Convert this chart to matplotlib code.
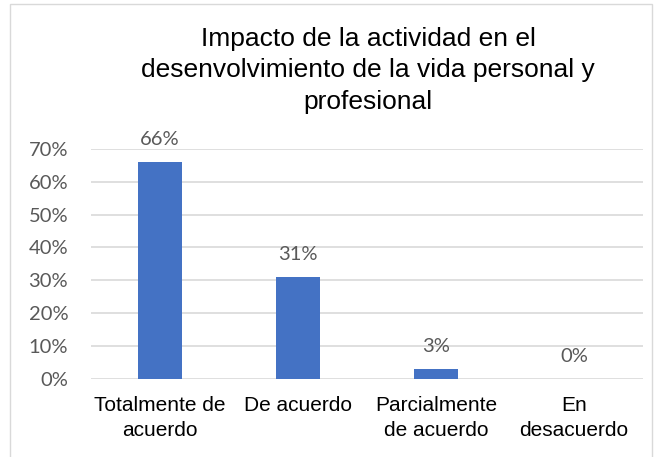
import matplotlib.pyplot as plt
from matplotlib.patches import Rectangle

categories = ["Totalmente de\nacuerdo", "De acuerdo", "Parcialmente\nde acuerdo", "En\ndesacuerdo"]
values = [0.66, 0.31, 0.03, 0.00]
value_labels = ["66%", "31%", "3%", "0%"]
yticks = [0, 0.1, 0.2, 0.3, 0.4, 0.5, 0.6, 0.7]
ytick_labels = ["0%", "10%", "20%", "30%", "40%", "50%", "60%", "70%"]

plt.rcParams['font.family'] = ['Liberation Sans', 'DejaVu Sans']

fig = plt.figure(figsize=(6.6, 4.57), dpi=100)
ax = fig.add_axes([0.138, 0.171, 0.836, 0.503])

x = range(len(categories))
ax.bar(x, values, width=0.32, color="#4472C4", zorder=3)
for i, v in enumerate(values):
    ax.annotate(value_labels[i], (i, v), xytext=(0, 10), textcoords="offset points",
                ha="center", va="bottom", fontsize=14.5, color="#595959", family="Lato")

ax.set_xlim(-0.5, len(categories) - 0.5)
ax.set_ylim(0, 0.7)
ax.set_yticks(yticks)
ax.set_yticklabels(ytick_labels, fontsize=14.5, color="#595959", family="Lato")
ax.set_xticks(list(x))
ax.set_xticklabels(categories, fontsize=15, color="black", linespacing=1.4)
ax.tick_params(length=0, pad=12)
ax.tick_params(axis="y", pad=16.5)
ax.grid(axis="y", color="#D9D9D9", linewidth=1.2, zorder=0)
for s in ax.spines.values():
    s.set_visible(False)

fig.text(0.558, 0.846, "Impacto de la actividad en el\ndesenvolvimiento de la vida personal y\nprofesional",
         ha="center", va="center", fontsize=19, linespacing=1.38)

fig.patches.append(Rectangle((10 / 660, -0.01), 642 / 660, 1 - 4 / 457 + 0.01, transform=fig.transFigure,
                             fill=False, edgecolor="#D9D9D9", linewidth=1))

fig.savefig("out.png", dpi=100)
